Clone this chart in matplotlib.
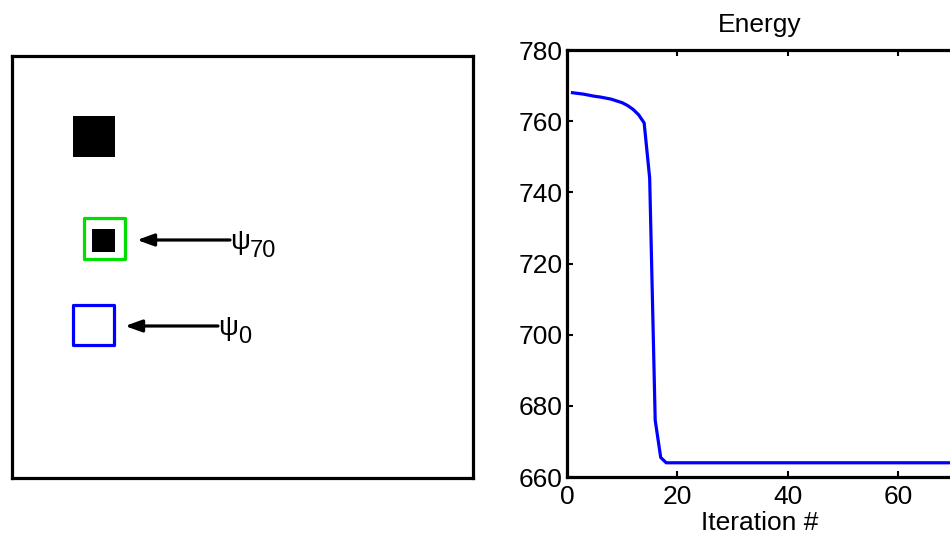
import numpy as np
import matplotlib
matplotlib.use('Agg')
import matplotlib.pyplot as plt
from matplotlib.patches import Rectangle

plt.rcParams['font.family'] = ['Liberation Sans', 'DejaVu Sans']

# energy per iteration
iterations = list(range(1, 71))
energy = [768.0, 767.8, 767.6, 767.3, 767.0, 766.8, 766.5, 766.2, 765.7, 765.2,
          764.4, 763.3, 761.8, 759.5, 744.0, 676.0, 665.5, 664.0, 664.0, 664.0,
          664.0, 664.0, 664.0, 664.0, 664.0, 664.0, 664.0, 664.0, 664.0, 664.0,
          664.0, 664.0, 664.0, 664.0, 664.0, 664.0, 664.0, 664.0, 664.0, 664.0,
          664.0, 664.0, 664.0, 664.0, 664.0, 664.0, 664.0, 664.0, 664.0, 664.0,
          664.0, 664.0, 664.0, 664.0, 664.0, 664.0, 664.0, 664.0, 664.0, 664.0,
          664.0, 664.0, 664.0, 664.0, 664.0, 664.0, 664.0, 664.0, 664.0, 664.0]
xticks = [0, 20, 40, 60]
yticks = [660, 680, 700, 720, 740, 760, 780]

# left scene, in pixels of the image panel (x, y, w, h), y downward
scene_size = (461, 422)
filled_squares = [(61, 60, 42, 41), (80, 173, 23, 23)]
contours = [(72.5, 162.5, 41, 41), (61.5, 249.5, 41, 40)]
contour_colors = ['#00e000', '#0000ff']
labels = ['70', '0']
arrow_tails = [(218, 184), (206, 270)]
arrow_heads = [(125, 184), (113, 270)]

fig = plt.figure(figsize=(9.5, 5.39), dpi=100)

# left panel: the image
axl = fig.add_axes([0.0126, 0.1132, 0.4853, 0.7829])
axl.set_xlim(0, scene_size[0])
axl.set_ylim(scene_size[1], 0)
axl.set_xticks([])
axl.set_yticks([])
for s in axl.spines.values():
    s.set_linewidth(2.3)

for (x, y, w, h) in filled_squares:
    axl.add_patch(Rectangle((x, y), w, h, facecolor='black', edgecolor='none'))
for (x, y, w, h), c in zip(contours, contour_colors):
    axl.add_patch(Rectangle((x, y), w, h, facecolor='none', edgecolor=c,
                            linewidth=2.3, joinstyle='round'))

for tail, head, sub in zip(arrow_tails, arrow_heads, labels):
    axl.annotate('', xy=head, xytext=tail,
                 arrowprops=dict(arrowstyle='-|>,head_length=0.5,head_width=0.18',
                                 color='black', lw=2.3, mutation_scale=20,
                                 shrinkA=0, shrinkB=0))
    axl.text(tail[0] + 0, tail[1] + 2, 'ψ', fontsize=20, va='center', ha='left')
    axl.text(tail[0] + 20, tail[1] + 11, sub, fontsize=17, va='center', ha='left')

# right panel: energy curve
ax = fig.add_axes([0.5968, 0.1150, 0.4063, 0.7922])
ax.plot(iterations, energy, color='#0000ff', linewidth=2.3,
        solid_joinstyle='round')
ax.set_xlim(0, 70)
ax.set_ylim(660, 780)
ax.set_xticks(xticks)
ax.set_yticks(yticks)
ax.tick_params(direction='in', top=True, right=False, length=4, width=1.5,
               labelsize=19)
ax.tick_params(axis='x', pad=6)
ax.tick_params(axis='y', pad=3)
for s in ax.spines.values():
    s.set_linewidth(2.3)
ax.set_title('Energy', fontsize=19, pad=13)
ax.set_xlabel('Iteration #', fontsize=19, labelpad=1)

fig.savefig('out.png', dpi=100)
